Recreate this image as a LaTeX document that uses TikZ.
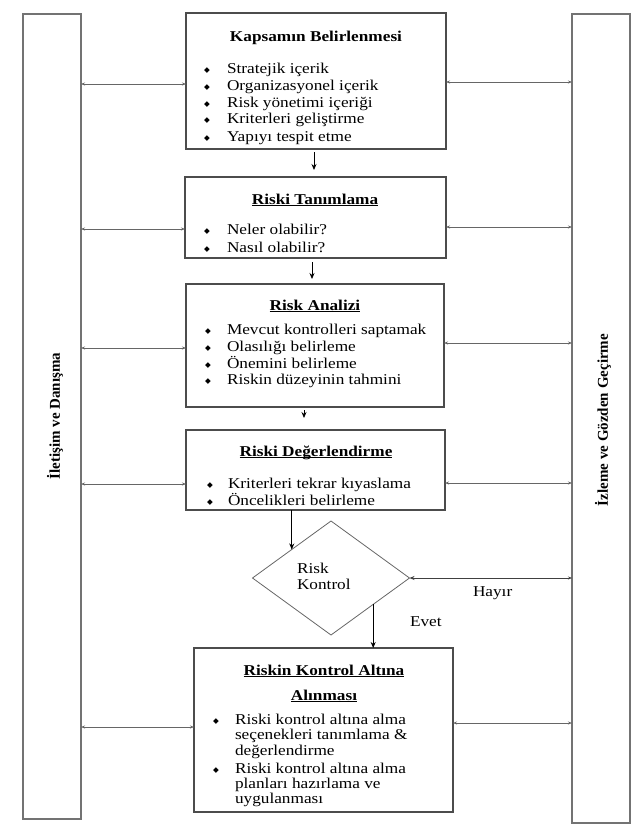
\documentclass[tikz,border=0pt]{standalone}
\usepackage{fontspec}
\setmainfont{Liberation Serif}[FakeStretch=1.15]
\newfontfamily\uprightserif{Liberation Serif}
\newfontfamily\symfont{DejaVu Sans}
\usetikzlibrary{shapes.geometric,arrows.meta}
\newcommand\bulmark[1]{\makebox[#1][l]{\raisebox{1pt}{\symfont\fontsize{7.5pt}{7.5pt}\selectfont ◆}}}
\newcommand\myul[1]{\setbox0\hbox{#1}\rlap{\rule[-2.2pt]{\wd0}{0.8pt}}\box0}
\tikzset{
 box/.style={draw=black!70, line width=1.1pt, inner sep=0pt, outer sep=0pt},
 bar/.style={draw=black!55, line width=1.4pt, inner sep=0pt, outer sep=0pt},
 txt/.style={inner sep=0pt, outer sep=0pt, font=\fontsize{15pt}{17pt}\selectfont, anchor=base west},
 ttl/.style={inner sep=0pt, outer sep=0pt, font=\fontsize{15pt}{17pt}\selectfont\bfseries, anchor=base},
 rot/.style={inner sep=0pt, rotate=90, font=\uprightserif\fontsize{15pt}{17pt}\selectfont\bfseries},
 side/.style={draw=black!60, line width=0.7pt, {Stealth[length=4pt,width=3pt]}-{Stealth[length=4pt,width=3pt]}},
 flow/.style={draw=black, line width=0.8pt, -{Stealth[length=6pt,width=5pt]}},
 hay/.style={draw=black!75, line width=0.8pt, {Stealth[length=5pt,width=4pt]}-{Stealth[length=4pt,width=3pt]}},
}
\begin{document}
\begin{tikzpicture}[x=1pt,y=-1pt]
\useasboundingbox (0,0) rectangle (637,830);
% side bars
\node[bar, minimum width=58pt, minimum height=805pt] (lb) at (52,416.5) {};
\node[bar, minimum width=58pt, minimum height=809pt] (rb) at (601,418.5) {};
\node[rot] (lbt) at (55,416) {İletişim ve Danışma};
\node[rot] (rbt) at (603,420) {İzleme ve Gözden Geçirme};
% boxes
\node[box, minimum width=260pt, minimum height=136pt] (b1) at (316,81) {};
\node[box, minimum width=261pt, minimum height=81pt] (b2) at (315.5,217.5) {};
\node[box, minimum width=258pt, minimum height=123pt] (b3) at (315,345.5) {};
\node[box, minimum width=259pt, minimum height=80pt] (b4) at (315.5,470) {};
\node[box, minimum width=259pt, minimum height=164pt] (b5) at (323.5,730) {};
\node[draw=black!60, line width=0.8pt, diamond, aspect=1.377, minimum width=157pt, minimum height=114pt, inner sep=0pt, outer sep=0pt] (dia) at (331,578) {};
% box 1 text
\node[ttl] (t1) at (316,41) {Kapsamın Belirlenmesi};
\node[txt] (b1l1) at (204,73) {\bulmark{23pt}Stratejik içerik};
\node[txt] (b1l2) at (204,90) {\bulmark{23pt}Organizasyonel içerik};
\node[txt] (b1l3) at (204,107) {\bulmark{23pt}Risk yönetimi içeriği};
\node[txt] (b1l4) at (204,123) {\bulmark{23pt}Kriterleri geliştirme};
\node[txt] (b1l5) at (204,141) {\bulmark{23pt}Yapıyı tespit etme};
% box 2 text
\node[ttl] (t2) at (315,204) {\myul{Riski Tanımlama}};
\node[txt] (b2l1) at (204,234) {\bulmark{23pt}Neler olabilir?};
\node[txt] (b2l2) at (204,252) {\bulmark{23pt}Nasıl olabilir?};
% box 3 text
\node[ttl] (t3) at (315,310) {\myul{Risk Analizi}};
\node[txt] (b3l1) at (205,334) {\bulmark{22pt}Mevcut kontrolleri saptamak};
\node[txt] (b3l2) at (205,351) {\bulmark{22pt}Olasılığı belirleme};
\node[txt] (b3l3) at (205,368) {\bulmark{22pt}Önemini belirleme};
\node[txt] (b3l4) at (205,384) {\bulmark{22pt}Riskin düzeyinin tahmini};
% box 4 text
\node[ttl] (t4) at (316,456) {\myul{Riski Değerlendirme}};
\node[txt] (b4l1) at (207,488) {\bulmark{21pt}Kriterleri tekrar kıyaslama};
\node[txt] (b4l2) at (207,505) {\bulmark{21pt}Öncelikleri belirleme};
% diamond text
\node[txt] (d1) at (297,573) {Risk};
\node[txt] (d2) at (297,589) {Kontrol};
\node[txt] (hy) at (473,596) {Hayır};
\node[txt] (ev) at (410,626) {Evet};
% box 5 text
\node[ttl] (t5a) at (324,675) {\myul{Riskin Kontrol Altına}};
\node[ttl] (t5b) at (324,700) {\myul{Alınması}};
\node[txt] (b5l1) at (213,724) {\bulmark{22pt}Riski kontrol altına alma};
\node[txt] (b5l2) at (235,739) {seçenekleri tanımlama \&};
\node[txt] (b5l3) at (235,755) {değerlendirme};
\node[txt] (b5l4) at (213,773) {\bulmark{22pt}Riski kontrol altına alma};
\node[txt] (b5l5) at (235,788) {planları hazırlama ve};
\node[txt] (b5l6) at (235,803) {uygulanması};
% flow arrows
\coordinate (a1) at (314,0);
\coordinate (a2) at (312,0);
\coordinate (a3) at (304,0);
\draw[flow, shorten <=3pt, shorten >=7pt] (b1.south -| a1) -- (b2.north -| a1);
\draw[flow, shorten <=4pt, shorten >=5pt] (b2.south -| a2) -- (b3.north -| a2);
\draw[flow, shorten <=3pt, shorten >=12pt] (b3.south -| a3) -- (b4.north -| a3);
\draw[flow] (b4.south -| dia.144) -- (dia.144);
\draw[flow] (dia.328) -- (b5.north -| dia.328);
\draw[hay] (dia.east) -- (rb.west |- dia.east);
% side arrows
\coordinate (s1l) at (0,84); \coordinate (s1r) at (0,82);
\coordinate (s2l) at (0,229); \coordinate (s2r) at (0,227);
\coordinate (s3l) at (0,348); \coordinate (s3r) at (0,343);
\coordinate (s4l) at (0,484); \coordinate (s4r) at (0,483);
\coordinate (s5l) at (0,727); \coordinate (s5r) at (0,723);
\draw[side] (lb.east |- s1l) -- (b1.west |- s1l);
\draw[side] (b1.east |- s1r) -- (rb.west |- s1r);
\draw[side] (lb.east |- s2l) -- (b2.west |- s2l);
\draw[side] (b2.east |- s2r) -- (rb.west |- s2r);
\draw[side] (lb.east |- s3l) -- (b3.west |- s3l);
\draw[side] (b3.east |- s3r) -- (rb.west |- s3r);
\draw[side] (lb.east |- s4l) -- (b4.west |- s4l);
\draw[side] (b4.east |- s4r) -- (rb.west |- s4r);
\draw[side] (lb.east |- s5l) -- (b5.west |- s5l);
\draw[side] (b5.east |- s5r) -- (rb.west |- s5r);
\end{tikzpicture}
\end{document}
